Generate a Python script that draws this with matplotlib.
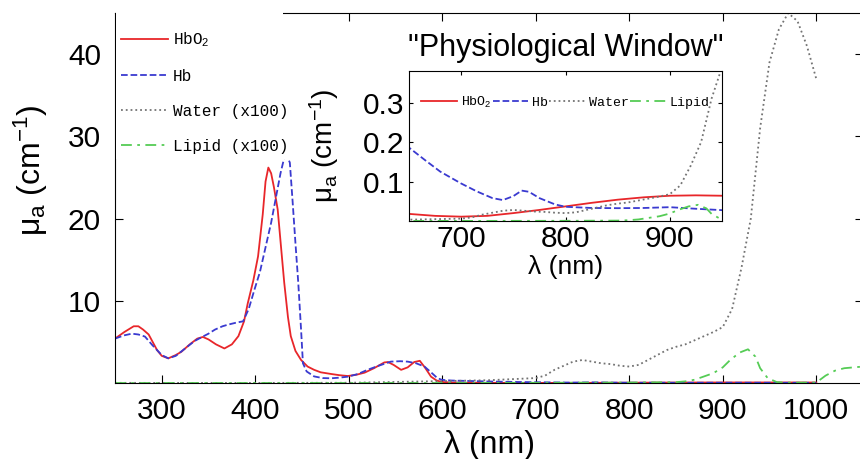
import numpy as np
import matplotlib.pyplot as plt
from matplotlib.patches import Rectangle

plt.rcParams['font.family'] = ['Liberation Sans', 'DejaVu Sans']
plt.rcParams['mathtext.fontset'] = 'custom'
plt.rcParams['mathtext.rm'] = 'Liberation Sans'
plt.rcParams['mathtext.it'] = 'Liberation Sans'

# ---- Données ---- #

# HbO2 (cm^-1)
lam_hbo2 = [250, 260, 270, 275, 280, 286, 295, 300, 307, 315, 321, 330, 338, 344, 350,
            358, 367, 375, 382, 388, 392, 398, 403, 408, 411, 414, 417, 420, 424, 428,
            431, 435, 438, 443, 449, 456, 463, 470, 481, 490, 499, 508, 517, 527, 538,
            542, 548, 556, 563, 570, 576, 582, 588, 594, 600, 610, 620, 650, 675, 700,
            725, 750, 775, 800, 825, 850, 875, 900, 925, 950, 975, 1000]
mu_hbo2 = [5.4, 6.2, 6.9, 6.9, 6.5, 5.9, 4.0, 3.3, 3.0, 3.4, 3.8, 4.7, 5.4, 5.6, 5.3,
           4.7, 4.2, 4.7, 5.7, 7.5, 9.7, 12.5, 15.4, 20.5, 24.5, 26.2, 25.5, 23.8, 21.1, 16.0,
           12.2, 8.0, 5.7, 3.9, 2.8, 2.0, 1.6, 1.3, 1.1, 0.95, 0.85, 1.0, 1.26, 1.8, 2.5,
           2.55, 2.2, 1.6, 1.9, 2.55, 2.7, 1.8, 0.77, 0.3, 0.12, 0.06, 0.04, 0.018, 0.013, 0.011,
           0.013, 0.02, 0.028, 0.037, 0.046, 0.054, 0.06, 0.064, 0.065, 0.064, 0.062, 0.058]

# Hb (cm^-1)
lam_hb = [250, 260, 268, 275, 282, 290, 300, 307, 315, 325, 335, 344, 350, 357, 365,
          371, 380, 387, 393, 399, 405, 411, 417, 422, 427, 431, 434, 437, 440, 443,
          446, 449, 451, 455, 463, 472, 481, 490, 499, 510, 520, 532, 545, 555, 563,
          572, 581, 588, 595, 600, 610, 620, 635, 650, 665, 680, 700, 715, 730, 740,
          750, 758, 765, 775, 790, 800, 825, 850, 875, 900, 925, 950, 975, 1000]
mu_hb = [5.4, 5.8, 6.0, 5.9, 5.65, 4.6, 3.4, 3.0, 3.3, 4.2, 5.1, 5.65, 6.0, 6.5, 6.9,
         7.1, 7.35, 7.5, 9.0, 11.3, 13.5, 16.5, 19.5, 22.5, 25.5, 27.4, 27.6, 26.8, 22.0, 17.0,
         12.2, 6.5, 2.4, 1.4, 0.8, 0.6, 0.57, 0.65, 0.77, 1.1, 1.6, 2.1, 2.6, 2.65, 2.6,
         2.4, 2.0, 1.3, 0.57, 0.38, 0.3, 0.27, 0.23, 0.186, 0.155, 0.125, 0.095, 0.075, 0.058, 0.053,
         0.063, 0.077, 0.074, 0.058, 0.042, 0.036, 0.033, 0.0325, 0.033, 0.035, 0.031, 0.0275, 0.025, 0.022]

# Eau (cm^-1), tracée x100 sur la figure principale
lam_eau = [250, 300, 400, 500, 600, 650, 700, 710, 720, 730, 740, 750, 760, 770, 780,
           790, 800, 810, 820, 830, 840, 850, 860, 870, 880, 890, 900, 910, 920, 930,
           940, 950, 960, 970, 980, 990, 1000]
mu_eau = [0.0002, 0.0001, 0.0001, 0.0003, 0.0023, 0.0034, 0.006, 0.009, 0.016, 0.021, 0.026, 0.028, 0.026, 0.024, 0.023,
          0.021, 0.020, 0.022, 0.028, 0.034, 0.040, 0.044, 0.047, 0.052, 0.057, 0.062, 0.068, 0.09, 0.14, 0.20,
          0.31, 0.39, 0.43, 0.45, 0.44, 0.41, 0.37]

# Lipide (cm^-1), tracé x100 sur la figure principale
lam_lip = [250, 400, 600, 800, 850, 860, 870, 880, 890, 900, 908, 918, 927, 935, 940,
           948, 958, 970, 1000, 1010, 1020, 1030, 1040, 1050]
mu_lip = [0.0, 0.0, 0.0, 0.0005, 0.001, 0.002, 0.004, 0.008, 0.012, 0.019, 0.028, 0.037, 0.041, 0.032, 0.018,
          0.006, 0.001, 0.0005, 0.0005, 0.009, 0.015, 0.018, 0.019, 0.02]

xticks = [300, 400, 500, 600, 700, 800, 900, 1000]
yticks = [10, 20, 30, 40]
xticks_in = [700, 800, 900]
yticks_in = [0.1, 0.2, 0.3]

# ---- Styles ---- #
c_hbo2 = '#e8262a'
c_hb = '#3a3ad0'
c_eau = '0.45'
c_lip = '#55cc55'
ls_lip = (0, (6, 3, 1.5, 3))
mono = 'Liberation Mono'

fig = plt.figure(figsize=(8.6, 4.59), dpi=100)
ax = fig.add_axes([115 / 860, 76 / 459, 748 / 860, 370 / 459])

ax.plot(lam_hbo2, mu_hbo2, '-', color=c_hbo2, lw=1.3, label='HbO$_2$')
ax.plot(lam_hb, mu_hb, '--', color=c_hb, lw=1.3, label='Hb')
ax.plot(lam_eau, np.array(mu_eau) * 100, ':', color=c_eau, lw=1.3, label='Water (x100)')
ax.plot(lam_lip, np.array(mu_lip) * 100, linestyle=ls_lip, color=c_lip, lw=1.3, label='Lipid (x100)')

ax.set_xlim(250, 1050)
ax.set_ylim(0, 45)
ax.set_xticks(xticks)
ax.set_yticks(yticks)
ax.tick_params(direction='in', top=True, right=True, length=6, labelsize=21.5, pad=10)
ax.set_xlabel('λ (nm)', fontsize=23, labelpad=4)
ax.set_ylabel('μ$_a$ (cm$^{-1}$)', fontsize=23)
ax.yaxis.set_label_coords(-0.087, 0.576)

leg = ax.legend(loc='upper left', bbox_to_anchor=(0.0015, 0.966), prop={'family': mono, 'size': 11.5},
                handlelength=2.95, handletextpad=0.3, labelspacing=1.25, borderpad=0.3,
                borderaxespad=0, fancybox=False, framealpha=1)
leg.get_frame().set_edgecolor('white')
leg.get_frame().set_linewidth(0)
# le cadre blanc de la légende masque aussi le haut de l'axe
ax.add_patch(Rectangle((0.0015, 0.95), 0.2231, 0.07, transform=ax.transAxes,
                       facecolor='white', edgecolor='none', clip_on=False, zorder=4))

# ---- Encart "fenêtre physiologique" ---- #
ax_in = fig.add_axes([409 / 860, 238 / 459, 313 / 860, 150 / 459])
ax_in.plot(lam_hbo2, mu_hbo2, '-', color=c_hbo2, lw=1.3, label='HbO$_2$')
ax_in.plot(lam_hb, mu_hb, '--', color=c_hb, lw=1.3, label='Hb')
ax_in.plot(lam_eau, mu_eau, ':', color=c_eau, lw=1.3, label='Water')
ax_in.plot(lam_lip, mu_lip, linestyle=ls_lip, color=c_lip, lw=1.3, label='Lipid')
ax_in.set_xlim(650, 950)
ax_in.set_ylim(0, 0.38)
ax_in.set_xticks(xticks_in)
ax_in.set_yticks(yticks_in)
ax_in.set_yticklabels(['0.1', '0.2', '0.3'])
ax_in.tick_params(direction='in', top=True, right=True, length=3, labelsize=21.5, pad=3)
ax_in.set_xlabel('λ (nm)', fontsize=19, labelpad=1)
ax_in.set_ylabel('μ$_a$ (cm$^{-1}$)', fontsize=20, labelpad=16)
ax_in.set_title('"Physiological Window"', fontsize=22, pad=11)
ax_in.legend(loc='center', bbox_to_anchor=(0.5, 0.79), ncol=4, frameon=False,
             prop={'family': mono, 'size': 9.5}, handlelength=2.7, handletextpad=0.3,
             columnspacing=0.08, borderpad=0, borderaxespad=0)

fig.savefig('out.png', dpi=100)
